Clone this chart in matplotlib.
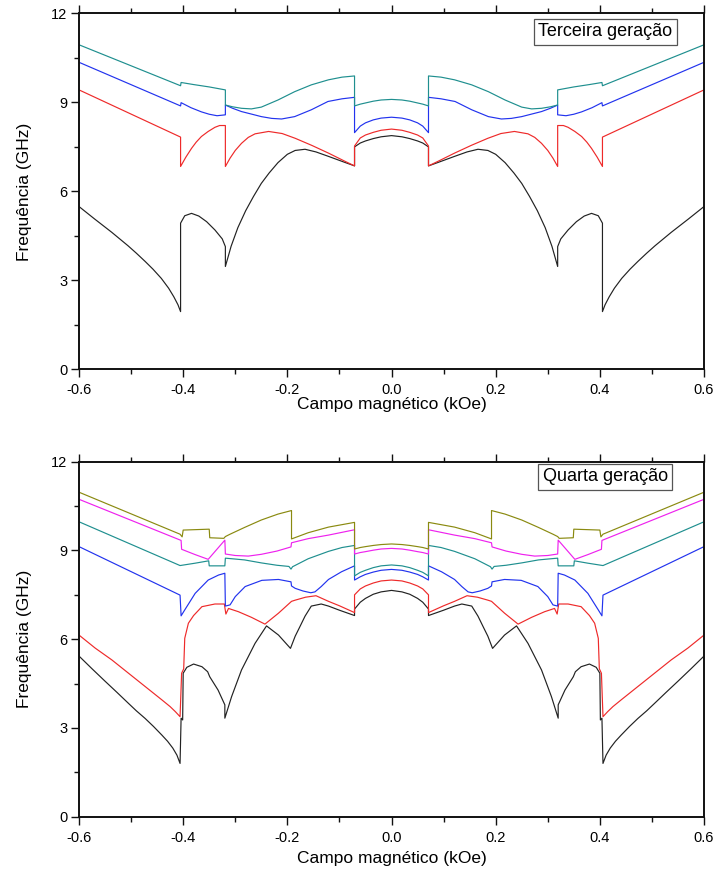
import numpy as np
import matplotlib
matplotlib.use("Agg")
import matplotlib.pyplot as plt
from matplotlib.ticker import MultipleLocator, FormatStrFormatter

plt.rcParams['font.family'] = ['Liberation Sans', 'DejaVu Sans']
plt.rcParams['axes.unicode_minus'] = False

# ---------------- data (field >= 0 half; spectra are symmetric in field) ----------------
# Top panel: "Terceira geração"
t_black_x = [0.000, 0.020, 0.035, 0.050, 0.060, 0.071, 0.071, 0.090, 0.121, 0.145, 0.166, 0.185, 0.200, 0.218, 0.235,
             0.250, 0.265, 0.280, 0.295, 0.308, 0.319, 0.319, 0.325, 0.339, 0.355, 0.370, 0.384, 0.397, 0.405, 0.405,
             0.410, 0.418, 0.428, 0.442, 0.458, 0.473, 0.490, 0.506, 0.537, 0.570, 0.600]
t_black_y = [7.88, 7.84, 7.78, 7.70, 7.63, 7.50, 6.86, 6.98, 7.18, 7.33, 7.42, 7.38, 7.25, 6.97, 6.62,
             6.27, 5.83, 5.35, 4.78, 4.15, 3.47, 4.14, 4.40, 4.70, 4.98, 5.17, 5.26, 5.18, 4.93, 1.95,
             2.18, 2.45, 2.74, 3.07, 3.38, 3.64, 3.92, 4.17, 4.62, 5.07, 5.49]

t_red_x = [0.000, 0.020, 0.035, 0.050, 0.060, 0.071, 0.071, 0.090, 0.121, 0.153, 0.185, 0.210, 0.236, 0.262, 0.275,
           0.288, 0.300, 0.310, 0.319, 0.319, 0.330, 0.339, 0.352, 0.365, 0.375, 0.384, 0.395, 0.405, 0.405, 0.600]
t_red_y = [8.10, 8.06, 7.99, 7.90, 7.80, 7.53, 6.86, 7.02, 7.29, 7.55, 7.79, 7.95, 8.02, 7.94, 7.82,
           7.62, 7.38, 7.12, 6.84, 8.22, 8.22, 8.16, 8.02, 7.85, 7.66, 7.45, 7.15, 6.84, 7.83, 9.42]

t_blue_x = [0.000, 0.020, 0.035, 0.050, 0.060, 0.071, 0.071, 0.095, 0.122, 0.154, 0.186, 0.211, 0.230, 0.250, 0.270,
            0.288, 0.305, 0.319, 0.319, 0.335, 0.350, 0.365, 0.385, 0.404, 0.405, 0.600]
t_blue_y = [8.50, 8.47, 8.41, 8.31, 8.20, 7.98, 9.17, 9.12, 9.03, 8.75, 8.52, 8.44, 8.46, 8.52, 8.61,
            8.69, 8.80, 8.91, 8.58, 8.55, 8.60, 8.68, 8.82, 8.99, 8.88, 10.35]

t_teal_x = [0.000, 0.020, 0.035, 0.050, 0.060, 0.071, 0.071, 0.095, 0.121, 0.154, 0.186, 0.218, 0.250, 0.269, 0.288,
            0.305, 0.319, 0.319, 0.350, 0.380, 0.404, 0.405, 0.600]
t_teal_y = [9.10, 9.08, 9.04, 8.98, 8.94, 8.88, 9.89, 9.85, 9.76, 9.59, 9.36, 9.08, 8.84, 8.78, 8.80,
            8.85, 8.91, 9.42, 9.52, 9.60, 9.67, 9.56, 10.94]

# Bottom panel: "Quarta geração"
b_black_x = [0.000, 0.020, 0.035, 0.050, 0.060, 0.071, 0.071, 0.100, 0.121, 0.135, 0.154, 0.166, 0.176, 0.185, 0.194,
             0.217, 0.240, 0.262, 0.288, 0.307, 0.320, 0.320, 0.333, 0.349, 0.353, 0.364, 0.380, 0.393, 0.400, 0.401,
             0.404, 0.406, 0.412, 0.420, 0.430, 0.441, 0.457, 0.473, 0.490, 0.505, 0.527, 0.550, 0.575, 0.600]
b_black_y = [7.65, 7.60, 7.52, 7.38, 7.25, 7.02, 6.80, 6.98, 7.12, 7.19, 7.12, 6.78, 6.42, 6.10, 5.69,
             6.14, 6.45, 5.86, 4.96, 4.06, 3.33, 3.78, 4.28, 4.73, 4.90, 5.07, 5.16, 5.05, 4.85, 3.27,
             3.33, 1.80, 2.08, 2.32, 2.55, 2.76, 3.05, 3.32, 3.58, 3.83, 4.20, 4.58, 5.00, 5.43]

b_red_x = [0.000, 0.020, 0.035, 0.050, 0.060, 0.071, 0.071, 0.100, 0.121, 0.145, 0.165, 0.185, 0.192, 0.217, 0.243,
           0.269, 0.294, 0.313, 0.318, 0.321, 0.339, 0.364, 0.380, 0.390, 0.397, 0.399, 0.403, 0.406, 0.415, 0.425,
           0.441, 0.473, 0.505, 0.537, 0.569, 0.600]
b_red_y = [8.00, 7.97, 7.90, 7.80, 7.70, 7.50, 6.90, 7.13, 7.28, 7.47, 7.42, 7.32, 7.28, 6.88, 6.51,
           6.74, 6.93, 7.04, 6.85, 7.19, 7.19, 7.10, 6.80, 6.54, 6.03, 5.00, 4.85, 3.38, 3.55, 3.72,
           3.95, 4.40, 4.85, 5.30, 5.70, 6.14]

b_blue_x = [0.000, 0.020, 0.035, 0.050, 0.060, 0.071, 0.071, 0.096, 0.121, 0.135, 0.147, 0.155, 0.170, 0.185, 0.192,
            0.193, 0.217, 0.249, 0.281, 0.300, 0.310, 0.319, 0.320, 0.332, 0.352, 0.377, 0.397, 0.404, 0.406, 0.600]
b_blue_y = [8.36, 8.33, 8.27, 8.19, 8.11, 8.00, 8.48, 8.28, 8.02, 7.78, 7.60, 7.57, 7.63, 7.72, 7.80,
            7.94, 8.02, 7.99, 7.78, 7.44, 7.16, 7.12, 8.23, 8.17, 8.00, 7.55, 6.99, 6.79, 7.49, 9.13]

b_teal_x = [0.000, 0.020, 0.035, 0.050, 0.060, 0.071, 0.071, 0.095, 0.121, 0.160, 0.190, 0.193, 0.197, 0.220, 0.250,
            0.282, 0.300, 0.319, 0.320, 0.350, 0.351, 0.377, 0.406, 0.600]
b_teal_y = [8.51, 8.48, 8.42, 8.33, 8.26, 8.14, 9.17, 9.10, 8.97, 8.72, 8.45, 8.37, 8.46, 8.50, 8.58,
            8.68, 8.71, 8.74, 8.48, 8.48, 8.65, 8.57, 8.49, 9.97]

b_magenta_x = [0.000, 0.020, 0.035, 0.050, 0.060, 0.071, 0.071, 0.121, 0.160, 0.192, 0.193, 0.220, 0.250, 0.275, 0.300,
               0.319, 0.320, 0.352, 0.377, 0.403, 0.404, 0.600]
b_magenta_y = [9.07, 9.05, 9.01, 8.96, 8.93, 8.88, 9.70, 9.52, 9.40, 9.26, 9.12, 8.98, 8.87, 8.81, 8.83,
               8.88, 9.35, 8.70, 8.86, 9.04, 9.34, 10.73]

b_olive_x = [0.000, 0.020, 0.035, 0.050, 0.060, 0.071, 0.071, 0.121, 0.160, 0.192, 0.192, 0.218, 0.250, 0.282, 0.310,
             0.319, 0.322, 0.349, 0.350, 0.400, 0.402, 0.406, 0.600]
b_olive_y = [9.22, 9.20, 9.17, 9.13, 9.10, 9.05, 9.95, 9.79, 9.60, 9.39, 10.35, 10.23, 10.03, 9.78, 9.55,
             9.47, 9.41, 9.43, 9.72, 9.69, 9.46, 9.55, 10.97]

x_ticks = [-0.6, -0.4, -0.2, 0.0, 0.2, 0.4, 0.6]
y_ticks = [0, 3, 6, 9, 12]
x_label = 'Campo magnético (kOe)'
y_label = 'Frequência (GHz)'
titles = ['Terceira geração', 'Quarta geração']

C_BLACK, C_RED, C_BLUE, C_TEAL, C_MAG, C_OLIVE = '#222222', '#ee2a2a', '#2233ee', '#1f8f8f', '#ee22ee', '#8a8a10'

top_series = [(t_black_x, t_black_y, C_BLACK), (t_red_x, t_red_y, C_RED),
              (t_blue_x, t_blue_y, C_BLUE), (t_teal_x, t_teal_y, C_TEAL)]
bot_series = [(b_black_x, b_black_y, C_BLACK), (b_red_x, b_red_y, C_RED),
              (b_blue_x, b_blue_y, C_BLUE), (b_teal_x, b_teal_y, C_TEAL),
              (b_magenta_x, b_magenta_y, C_MAG), (b_olive_x, b_olive_y, C_OLIVE)]


def mirror(x, y):
    x = np.asarray(x, float)
    y = np.asarray(y, float)
    return np.concatenate([-x[::-1], x[1:]]), np.concatenate([y[::-1], y[1:]])


fig = plt.figure(figsize=(7.17, 8.77), dpi=100)
ax1 = fig.add_axes([0.1102, 0.5787, 0.8717, 0.4061])
ax2 = fig.add_axes([0.1102, 0.0688, 0.8717, 0.4047])

panels = [(ax1, top_series, titles[0], 0.948, -0.078), (ax2, bot_series, titles[1], 0.958, -0.098)]
for ax, series, title, ty, xly in panels:
    for xs, ys, c in series:
        X, Y = mirror(xs, ys)
        ax.plot(X, Y, color=c, lw=0.85)
    ax.set_xlim(-0.6, 0.6)
    ax.set_ylim(0, 12)
    ax.set_xticks(x_ticks)
    ax.set_yticks(y_ticks)
    ax.xaxis.set_minor_locator(MultipleLocator(0.1))
    ax.yaxis.set_minor_locator(MultipleLocator(1.5))
    ax.xaxis.set_major_formatter(FormatStrFormatter('%.1f'))
    ax.tick_params(which='both', direction='out', top=True, right=False, labeltop=False,
                   width=1.0, labelsize=10.5, color='#111111')
    ax.tick_params(which='major', length=5.5)
    ax.tick_params(which='minor', length=3.3)
    ax.tick_params(axis='y', pad=3)
    ax.tick_params(axis='x', pad=4.5)
    for s in ax.spines.values():
        s.set_linewidth(1.4)
        s.set_color('#111111')
    ax.set_xlabel(x_label, fontsize=12.5)
    ax.set_ylabel(y_label, fontsize=12.5)
    ax.yaxis.set_label_coords(-0.075, 0.5)
    ax.xaxis.set_label_coords(0.5, xly)
    ax.text(0.842, ty, title, transform=ax.transAxes, ha='center', va='center', fontsize=13,
            bbox=dict(boxstyle='square,pad=0.25', fc='white', ec='#555555', lw=0.9))

fig.savefig('out.png', dpi=100)
